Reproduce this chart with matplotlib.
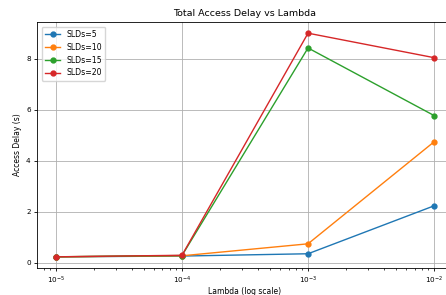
import matplotlib.pyplot as plt

# Lambda values and delay per number of SLDs
lambdas = [1e-5, 1e-4, 1e-3, 1e-2]
slds = [5, 10, 15, 20]
delay_5 = [0.24, 0.27, 0.36, 2.24]
delay_10 = [0.24, 0.28, 0.75, 4.75]
delay_15 = [0.24, 0.29, 8.43, 5.78]
delay_20 = [0.24, 0.30, 9.01, 8.05]
delays = [delay_5, delay_10, delay_15, delay_20]

fig = plt.figure(figsize=(4.46, 2.95), dpi=100)
# axes runs past the right edge, as in the reference crop
ax = fig.add_axes([37 / 446, 1 - 268 / 295, 416 / 446, 246 / 295])

for n, d in zip(slds, delays):
    ax.plot(lambdas, d, marker='o', markersize=3.5, linewidth=1.0, label=f'SLDs={n}')

ax.set_xscale('log')
ax.set_title('Total Access Delay vs Lambda', fontsize=6.8, pad=4)
ax.set_xlabel('Lambda (log scale)', fontsize=5.5, labelpad=1)
ax.set_ylabel('Access Delay (s)', fontsize=5.5, labelpad=3)
ax.tick_params(labelsize=5.2, width=0.6, length=2.5, pad=2)
ax.tick_params(which='minor', width=0.5, length=1.5)
for s in ax.spines.values():
    s.set_linewidth(0.6)
ax.grid(True, linewidth=0.6)
ax.legend(fontsize=5.6, loc='upper left', borderaxespad=0.6)

plt.savefig('out.png', dpi=100)
